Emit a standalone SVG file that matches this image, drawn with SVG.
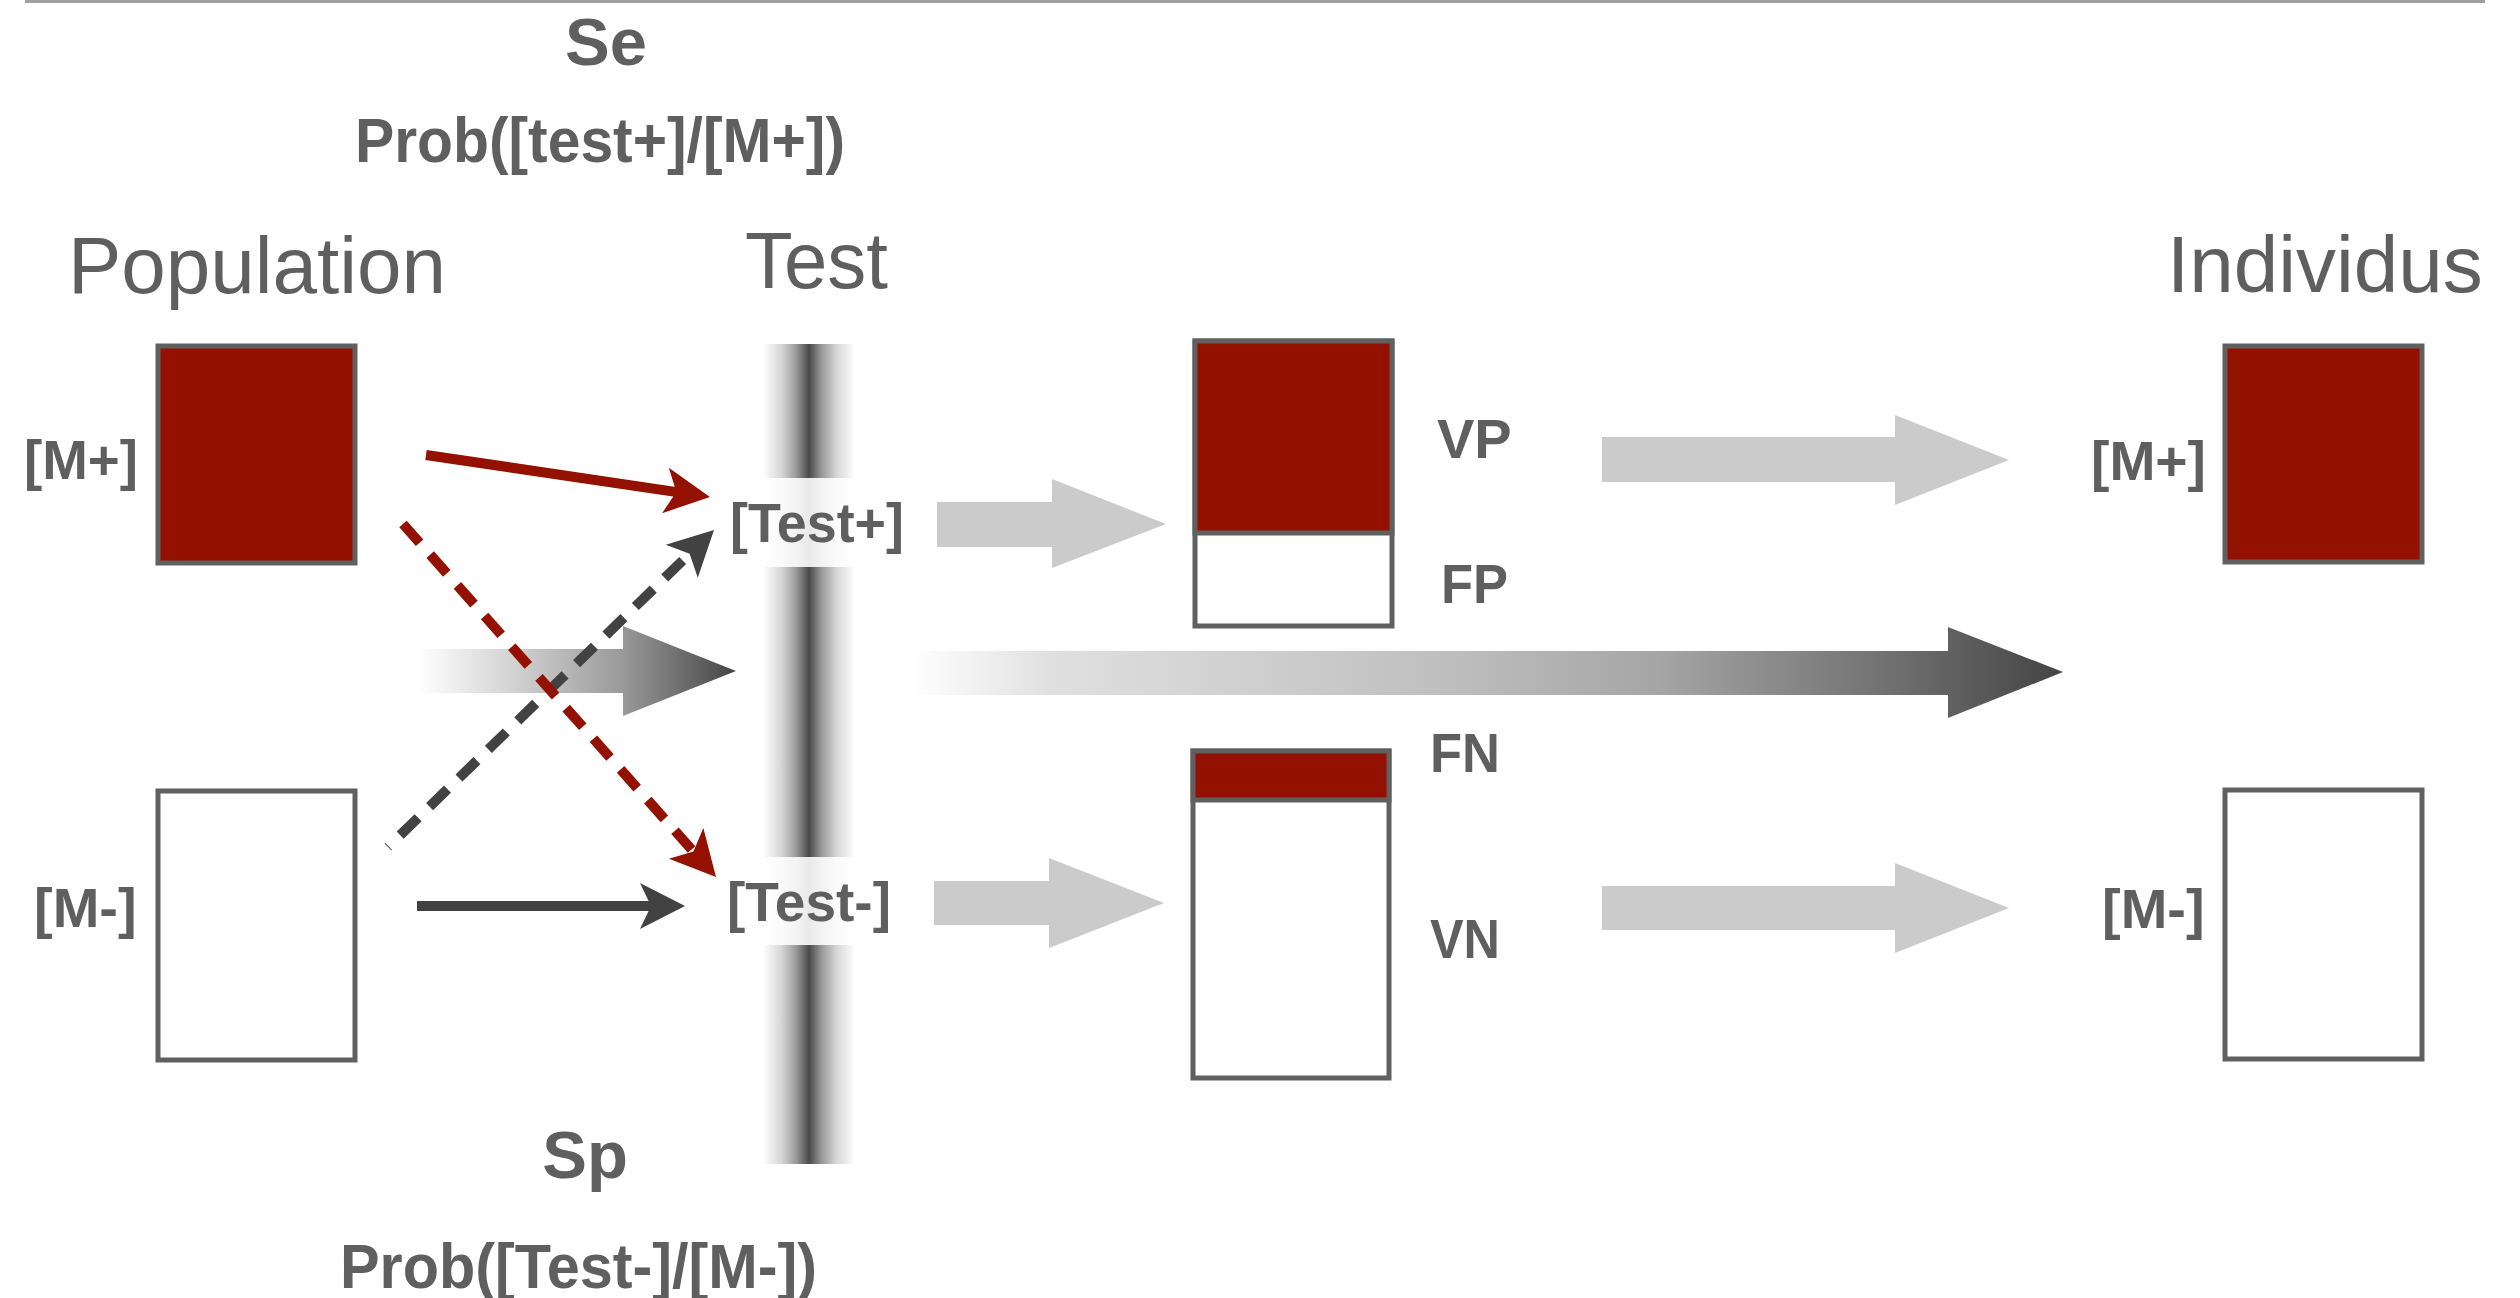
<svg xmlns="http://www.w3.org/2000/svg" width="2520" height="1298" viewBox="0 0 2520 1298">
  <style>
    .title { font-family: "Liberation Sans", Arial, sans-serif; font-size: 80px; fill: #5f5f5f; }
    .lbl { font-family: "Liberation Sans", Arial, sans-serif; font-weight: bold; font-size: 56px; fill: #5f5f5f; }
    .big { font-family: "Liberation Sans", Arial, sans-serif; font-weight: bold; font-size: 67px; fill: #5f5f5f; }
    .prob { font-family: "Liberation Sans", Arial, sans-serif; font-weight: bold; font-size: 63px; fill: #5f5f5f; }
    .box { stroke: #606060; stroke-width: 5; }
    .pos { fill: #941100; }
    .neg { fill: #ffffff; }
    .flow { fill: #cbcbcb; }
    .red { stroke: #941100; stroke-width: 10; fill: none; }
    .dark { stroke: #424242; stroke-width: 10; fill: none; }
    .dash { stroke-dasharray: 25 16; }
    .band { fill: #ffffff; fill-opacity: 0.88; }
  </style>
  <defs>
    <linearGradient id="barGrad" x1="0" y1="0" x2="1" y2="0">
      <stop offset="0" stop-color="#ffffff"/>
      <stop offset="0.2" stop-color="#d6d6d6"/>
      <stop offset="0.36" stop-color="#9a9a9a"/>
      <stop offset="0.5" stop-color="#4a4a4a"/>
      <stop offset="0.64" stop-color="#9a9a9a"/>
      <stop offset="0.8" stop-color="#d6d6d6"/>
      <stop offset="1" stop-color="#ffffff"/>
    </linearGradient>
    <linearGradient id="leftGrad" gradientUnits="userSpaceOnUse" x1="418" y1="0" x2="736" y2="0">
      <stop offset="0" stop-color="#ffffff"/>
      <stop offset="0.3" stop-color="#d2d2d2"/>
      <stop offset="0.64" stop-color="#9a9a9a"/>
      <stop offset="1" stop-color="#454545"/>
    </linearGradient>
    <linearGradient id="longGrad" gradientUnits="userSpaceOnUse" x1="913" y1="0" x2="2063" y2="0">
      <stop offset="0" stop-color="#ffffff"/>
      <stop offset="0.12" stop-color="#e0e0e0"/>
      <stop offset="0.45" stop-color="#c0c0c0"/>
      <stop offset="0.65" stop-color="#a5a5a5"/>
      <stop offset="0.85" stop-color="#707070"/>
      <stop offset="1" stop-color="#444444"/>
    </linearGradient>
    <marker id="headRed" markerUnits="userSpaceOnUse" viewBox="-20 -26 60 52" markerWidth="60" markerHeight="52" refX="0" refY="0" orient="auto">
      <path d="M30,0 L-15,-23 L-4,0 L-15,23 Z" fill="#941100"/>
    </marker>
    <marker id="headDark" markerUnits="userSpaceOnUse" viewBox="-20 -26 60 52" markerWidth="60" markerHeight="52" refX="0" refY="0" orient="auto">
      <path d="M30,0 L-15,-23 L-4,0 L-15,23 Z" fill="#424242"/>
    </marker>
  </defs>

  <rect width="2520" height="1298" fill="#ffffff"/>
  <line x1="25" y1="1.5" x2="2485" y2="1.5" stroke="#a0a0a0" stroke-width="3"/>

  <!-- headings -->
  <g id="se-caption">
    <text class="big" x="606" y="65" text-anchor="middle">Se</text>
    <text class="prob" x="355" y="162" textLength="490" lengthAdjust="spacingAndGlyphs">Prob([test+]/[M+])</text>
  </g>
  <g id="sp-caption">
    <text class="big" x="585" y="1178" text-anchor="middle">Sp</text>
    <text class="prob" x="340" y="1288" textLength="477" lengthAdjust="spacingAndGlyphs">Prob([Test-]/[M-])</text>
  </g>
  <text class="title" x="68" y="293">Population</text>
  <text class="title" x="745" y="288" textLength="143" lengthAdjust="spacingAndGlyphs">Test</text>
  <text class="title" x="2167" y="292">Individus</text>

  <!-- population -->
  <g id="pop-pos">
    <rect class="box pos" x="158" y="346" width="197" height="217"/>
    <text class="lbl" x="24" y="479" textLength="114" lengthAdjust="spacingAndGlyphs">[M+]</text>
  </g>
  <g id="pop-neg">
    <rect class="box neg" x="158" y="791" width="197" height="269"/>
    <text class="lbl" x="34" y="927">[M-]</text>
  </g>

  <!-- test barrier -->
  <g id="test-bar">
    <rect x="763" y="344" width="92" height="820" fill="url(#barGrad)"/>
    <rect class="band" x="763" y="478" width="92" height="89"/>
    <rect class="band" x="763" y="857" width="92" height="88"/>
  </g>
  <g id="test-pos">
    <text class="lbl" x="730" y="542" textLength="174" lengthAdjust="spacingAndGlyphs">[Test+]</text>
  </g>
  <g id="test-neg">
    <text class="lbl" x="727" y="921" textLength="164" lengthAdjust="spacingAndGlyphs">[Test-]</text>
  </g>

  <!-- test outcomes -->
  <g id="result-pos">
    <rect class="box neg" x="1195" y="341" width="197" height="285"/>
    <rect class="box pos" x="1195" y="341" width="197" height="192"/>
    <text class="lbl" x="1437" y="458" font-size="57">VP</text>
    <text class="lbl" x="1441" y="603" font-size="57" textLength="67" lengthAdjust="spacingAndGlyphs">FP</text>
  </g>
  <g id="result-neg">
    <rect class="box neg" x="1193" y="751" width="196" height="327"/>
    <rect class="box pos" x="1193" y="751" width="196" height="49"/>
    <text class="lbl" x="1430" y="772" font-size="57" textLength="70" lengthAdjust="spacingAndGlyphs">FN</text>
    <text class="lbl" x="1430" y="958" font-size="57" textLength="70" lengthAdjust="spacingAndGlyphs">VN</text>
  </g>

  <!-- individuals -->
  <g id="ind-pos">
    <rect class="box pos" x="2225" y="346" width="197" height="216"/>
    <text class="lbl" x="2091" y="480" textLength="115" lengthAdjust="spacingAndGlyphs">[M+]</text>
  </g>
  <g id="ind-neg">
    <rect class="box neg" x="2225" y="790" width="197" height="269"/>
    <text class="lbl" x="2102" y="928">[M-]</text>
  </g>

  <!-- connectors -->
  <g id="connectors">
    <polygon fill="url(#leftGrad)" points="418,649 623,649 623,626 736,671 623,716 623,693 418,693"/>
    <polygon fill="url(#longGrad)" points="913,651 1948,651 1948,627 2063,672 1948,718 1948,695 913,695"/>
    <polygon class="flow" points="937,502 1052,502 1052,479 1166,524 1052,568 1052,547 937,547"/>
    <polygon class="flow" points="934,881 1049,881 1049,858 1164,903 1049,948 1049,925 934,925"/>
    <polygon class="flow" points="1602,437 1895,437 1895,415 2009,460 1895,505 1895,482 1602,482"/>
    <polygon class="flow" points="1602,886 1895,886 1895,863 2009,908 1895,953 1895,930 1602,930"/>
    <line class="dark" x1="417" y1="906" x2="655" y2="906" marker-end="url(#headDark)"/>
    <line class="dark dash" x1="388" y1="847" x2="692.5" y2="550.9" stroke-dashoffset="24" marker-end="url(#headDark)"/>
    <line class="red dash" x1="403" y1="524" x2="696.1" y2="854.6" marker-end="url(#headRed)"/>
    <line class="red" x1="426" y1="455" x2="680.3" y2="492.6" marker-end="url(#headRed)"/>
  </g>
</svg>
